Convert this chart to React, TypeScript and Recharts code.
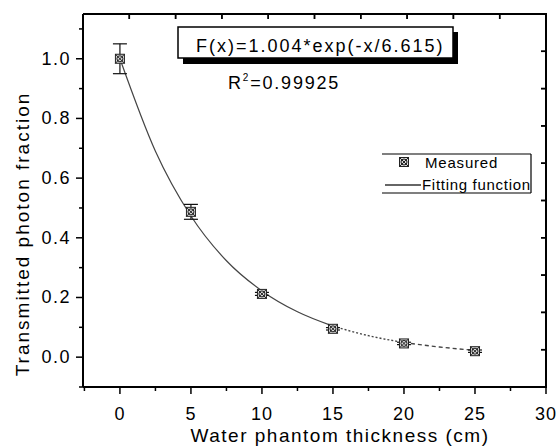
import { ComposedChart, XAxis, YAxis, Scatter, Line, ErrorBar } from 'recharts';

const thickness = [0, 5, 10, 15, 20, 25];
const measured = [1.0, 0.487, 0.212, 0.095, 0.046, 0.02];
const errLow = [0.05, 0.025, 0.005, 0.004, 0.004, 0.004];
const errHigh = [0.05, 0.025, 0.005, 0.004, 0.004, 0.004];

// fitted curve
const fitX = [0, 2.5, 5, 7.5, 10, 12.5, 15, 17.5, 20, 22.5, 25];
const fitY = [1.0, 0.69, 0.473, 0.323, 0.222, 0.152, 0.104, 0.072, 0.049, 0.034, 0.023];

const xTicks = [-2.5, 0, 2.5, 5, 7.5, 10, 12.5, 15, 17.5, 20, 22.5, 25, 27.5, 30];
const yTicks = [-0.1, 0, 0.1, 0.2, 0.3, 0.4, 0.5, 0.6, 0.7, 0.8, 0.9, 1.0, 1.1];
const yLabels = ['0.0', '0.2', '0.4', '0.6', '0.8', '1.0'];
const mirrorTicks = [1, 2, 3, 4, 5, 6, 7, 8, 9];

const FONT = '"Liberation Sans", Arial, sans-serif';

// plot frame (matches the axis sizes below)
const PLOT = { left: 83, top: 14, right: 546, bottom: 387 };

const points = thickness.map((x, i) => ({ x, y: measured[i], err: [errLow[i], errHigh[i]] }));
const fit = fitX.map((x, i) => ({ x, y: fitY[i] }));
const fitSolid = fit.slice(0, 7);
const fitDotted = fit.slice(6, 9);
const fitDashed = fit.slice(8);
const mirrorAnchor = mirrorTicks.map((v) => ({ x: v, y: v }));

function BottomTick(props: any) {
  const { x, y, payload } = props;
  const v = payload.value;
  const major = Math.abs(v % 5) < 1e-6;
  return (
    <g>
      <line x1={x} x2={x} y1={y} y2={y + (major ? 7 : 4)} stroke="#000" strokeWidth={1.5} />
      {major && (
        <text x={x} y={y + 33} textAnchor="middle" fontFamily={FONT} fontSize={18} letterSpacing={1} fill="#000">
          {v}
        </text>
      )}
    </g>
  );
}

function LeftTick(props: any) {
  const { x, y, payload } = props;
  const label = payload.value.toFixed(1);
  const major = yLabels.includes(label);
  return (
    <g>
      <line x1={x} x2={x - (major ? 7 : 4)} y1={y} y2={y} stroke="#000" strokeWidth={1.5} />
      {major && (
        <text x={x - 12} y={y + 6} textAnchor="end" fontFamily={FONT} fontSize={18} letterSpacing={1.5} fill="#000">
          {label}
        </text>
      )}
    </g>
  );
}

function TopTick(props: any) {
  const { x, y } = props;
  return <line x1={x} x2={x} y1={y + 8} y2={y + 13} stroke="#000" strokeWidth={1.5} />;
}

function RightTick(props: any) {
  const { x, y } = props;
  return <line x1={x - 8} x2={x - 13} y1={y} y2={y} stroke="#000" strokeWidth={1.5} />;
}

function Marker(props: any) {
  const { cx, cy } = props;
  if (cx == null || cy == null) return null;
  return (
    <g stroke="#222" strokeWidth={1}>
      <rect x={cx - 4.5} y={cy - 4.5} width={9} height={9} fill="#d8d8d8" />
      <circle cx={cx} cy={cy} r={3} fill="none" />
      <line x1={cx - 4.5} y1={cy - 4.5} x2={cx + 4.5} y2={cy + 4.5} />
      <line x1={cx + 4.5} y1={cy - 4.5} x2={cx - 4.5} y2={cy + 4.5} />
    </g>
  );
}

export default function App() {
  const w = PLOT.right - PLOT.left;
  const h = PLOT.bottom - PLOT.top;
  return (
    <div style={{ position: 'absolute', left: 0, top: 0, width: 560, height: 446, background: '#fff' }}>
      <ComposedChart width={560} height={446} margin={{ top: 0, right: 0, bottom: 0, left: 0 }}>
        <XAxis
          dataKey="x"
          type="number"
          domain={[-2.6, 30]}
          ticks={xTicks}
          interval={0}
          height={59}
          tickSize={0}
          tickMargin={0}
          tickLine={false}
          tick={BottomTick}
          axisLine={{ stroke: '#000', strokeWidth: 2 }}
          allowDataOverflow
        />
        <XAxis
          xAxisId="top"
          orientation="top"
          dataKey="x"
          type="number"
          domain={[0, 10]}
          ticks={mirrorTicks}
          interval={0}
          height={14}
          stroke="#000"
          strokeWidth={2}
          tickLine={false}
          tick={TopTick}
        />
        <YAxis
          dataKey="y"
          type="number"
          domain={[-0.1, 1.15]}
          ticks={yTicks}
          interval={0}
          width={83}
          tickSize={0}
          tickMargin={0}
          tickLine={false}
          tick={LeftTick}
          axisLine={{ stroke: '#000', strokeWidth: 2 }}
          allowDataOverflow
        />
        <YAxis
          yAxisId="right"
          orientation="right"
          dataKey="y"
          type="number"
          domain={[0, 10]}
          ticks={mirrorTicks}
          interval={0}
          width={14}
          stroke="#000"
          strokeWidth={2}
          tickLine={false}
          tick={RightTick}
        />
        <Line data={mirrorAnchor} xAxisId="top" yAxisId="right" dataKey="y" stroke="none" dot={false} legendType="none" isAnimationActive={false} />
        <Line data={fitSolid} dataKey="y" type="monotone" stroke="#444" strokeWidth={1.2} dot={false} isAnimationActive={false} />
        <Line data={fitDotted} dataKey="y" type="monotone" stroke="#444" strokeWidth={1.4} strokeDasharray="2 2" dot={false} isAnimationActive={false} />
        <Line data={fitDashed} dataKey="y" type="monotone" stroke="#444" strokeWidth={1.4} strokeDasharray="4 3" dot={false} isAnimationActive={false} />
        <Scatter data={points} dataKey="y" shape={Marker} isAnimationActive={false}>
          <ErrorBar dataKey="err" direction="y" width={7} stroke="#111" strokeWidth={1.2} />
        </Scatter>
      </ComposedChart>
      <svg width={560} height={446} style={{ position: 'absolute', left: 0, top: 0, pointerEvents: 'none' }} fontFamily={FONT}>
        {/* top and right frame with inward ticks */}
        <line x1={PLOT.left} x2={PLOT.right + 1} y1={PLOT.top} y2={PLOT.top} stroke="#000" strokeWidth={2} />
        <line x1={PLOT.right} x2={PLOT.right} y1={PLOT.top} y2={PLOT.bottom + 1} stroke="#000" strokeWidth={2} />
        {mirrorTicks.map((t) => (
          <line key={'t' + t} x1={PLOT.left + (w * t) / 10} x2={PLOT.left + (w * t) / 10} y1={PLOT.top} y2={PLOT.top + 5} stroke="#000" strokeWidth={1.5} />
        ))}
        {mirrorTicks.map((t) => (
          <line key={'r' + t} x1={PLOT.right} x2={PLOT.right - 5} y1={PLOT.top + (h * t) / 10} y2={PLOT.top + (h * t) / 10} stroke="#000" strokeWidth={1.5} />
        ))}
        {/* equation box with drop shadow */}
        <rect x={183} y={32} width={275} height={32} fill="#000" />
        <rect x={178} y={27} width={275} height={31} fill="#fff" stroke="#000" strokeWidth={1.5} />
        <text x={196} y={52} fontSize={18} letterSpacing={2} fill="#000">F(x)=1.004*exp(-x/6.615)</text>
        <text x={228} y={89} fontSize={18} letterSpacing={1.8} fill="#000">
          R<tspan fontSize={10} dy={-8}>2</tspan><tspan dy={8}>=0.99925</tspan>
        </text>
        {/* legend */}
        <line x1={382} x2={531} y1={154} y2={154} stroke="#000" strokeWidth={1.2} />
        <line x1={382} x2={531} y1={193} y2={193} stroke="#000" strokeWidth={1.2} />
        <line x1={531} x2={531} y1={154} y2={193} stroke="#000" strokeWidth={1.2} />
        <Marker cx={404} cy={162} />
        <text x={425} y={168} fontSize={15} letterSpacing={0.8} fill="#000">Measured</text>
        <line x1={385} x2={421} y1={185} y2={185} stroke="#333" strokeWidth={1.3} />
        <text x={422} y={190} fontSize={15} letterSpacing={0.7} fill="#000">Fitting function</text>
        {/* axis titles */}
        <text x={340} y={442} textAnchor="middle" fontSize={19} letterSpacing={1.5} fill="#000">Water phantom thickness (cm)</text>
        <text x={29} y={234} transform="rotate(-90 29 234)" textAnchor="middle" fontSize={19} letterSpacing={2} fill="#000">
          Transmitted photon fraction
        </text>
      </svg>
    </div>
  );
}
